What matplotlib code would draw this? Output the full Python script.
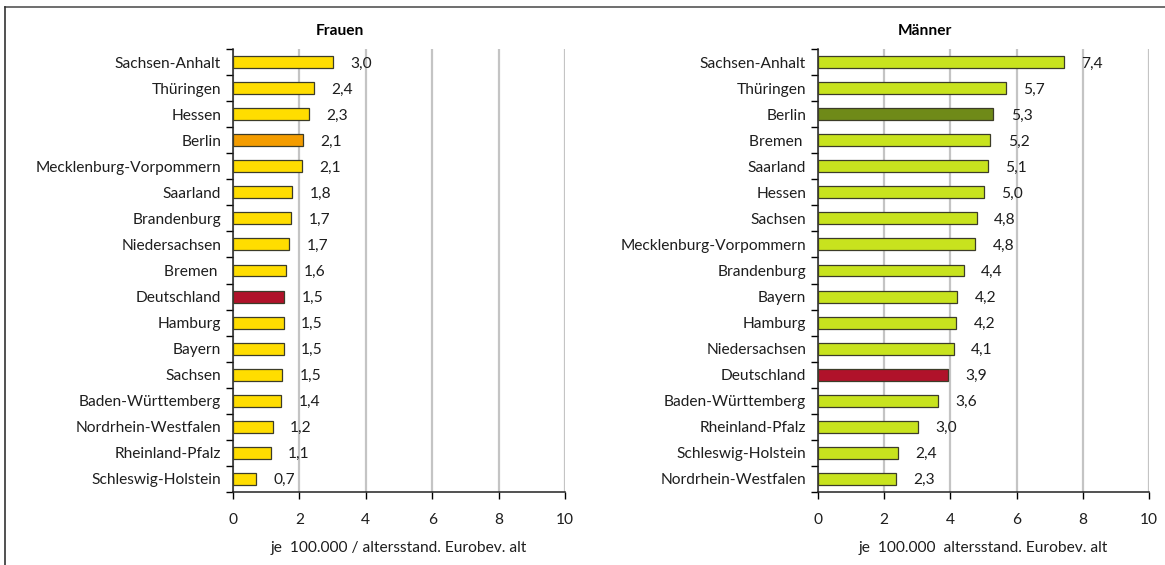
import matplotlib
matplotlib.use("Agg")
import matplotlib.pyplot as plt
from matplotlib.lines import Line2D
from matplotlib.ticker import FixedLocator

plt.rcParams['font.family'] = ['Lato', 'DejaVu Sans']

# Data
f_states = ["Sachsen-Anhalt", "Thüringen", "Hessen", "Berlin", "Mecklenburg-Vorpommern",
            "Saarland", "Brandenburg", "Niedersachsen", "Bremen ", "Deutschland", "Hamburg",
            "Bayern", "Sachsen", "Baden-Württemberg", "Nordrhein-Westfalen", "Rheinland-Pfalz",
            "Schleswig-Holstein"]
f_values = [3.01, 2.44, 2.29, 2.11, 2.08, 1.78, 1.75, 1.69, 1.60, 1.54, 1.53, 1.53, 1.48,
            1.45, 1.20, 1.14, 0.70]
f_labels = ["3,0", "2,4", "2,3", "2,1", "2,1", "1,8", "1,7", "1,7", "1,6", "1,5", "1,5",
            "1,5", "1,5", "1,4", "1,2", "1,1", "0,7"]

m_states = ["Sachsen-Anhalt", "Thüringen", "Berlin", "Bremen ", "Saarland", "Hessen", "Sachsen",
            "Mecklenburg-Vorpommern", "Brandenburg", "Bayern", "Hamburg", "Niedersachsen",
            "Deutschland", "Baden-Württemberg", "Rheinland-Pfalz", "Schleswig-Holstein",
            "Nordrhein-Westfalen"]
m_values = [7.42, 5.68, 5.30, 5.21, 5.14, 5.00, 4.80, 4.75, 4.41, 4.20, 4.17, 4.10, 3.93,
            3.63, 3.02, 2.42, 2.36]
m_labels = ["7,4", "5,7", "5,3", "5,2", "5,1", "5,0", "4,8", "4,8", "4,4", "4,2", "4,2",
            "4,1", "3,9", "3,6", "3,0", "2,4", "2,3"]

x_ticks = [0, 2, 4, 6, 8, 10]

f_color, f_berlin, de_color = "#FFDD00", "#F39C00", "#B0122A"
m_color, m_berlin = "#C8E31E", "#6F8A18"

W, H = 1165, 565
fig = plt.figure(figsize=(W / 100, H / 100), dpi=100)
FS = 11.2
TXT = "#1e1e1e"

def px_ax(x0, x1, y0, y1):
    return fig.add_axes([x0 / W, 1 - y1 / H, (x1 - x0) / W, (y1 - y0) / H])

def draw(ax, states, values, labels, base, berlin_col):
    n = len(states)
    y = list(range(n))
    colors = []
    for s in states:
        if s.strip() == "Berlin":
            colors.append(berlin_col)
        elif s.strip() == "Deutschland":
            colors.append(de_color)
        else:
            colors.append(base)
    ax.barh(y, values, height=0.46, color=colors, edgecolor="#3c3c28", linewidth=0.9, zorder=3)
    for yi, v, lab in zip(y, values, labels):
        ax.annotate(lab, (v, yi), xytext=(12.5, -1), textcoords="offset points",
                    ha="left", va="center", fontsize=FS, color=TXT)
    ax.set_ylim(n - 0.5, -0.5)
    ax.set_xlim(0, 10)
    ax.set_yticks(y)
    ax.set_yticklabels(states, fontsize=FS, color=TXT)
    ax.tick_params(axis="y", which="major", length=0, pad=8.5)
    ax.yaxis.set_minor_locator(FixedLocator([i - 0.5 for i in range(n + 1)]))
    ax.tick_params(axis="y", which="minor", length=5, width=1, direction="out")
    ax.set_xticks(x_ticks)
    ax.set_xticklabels([str(t) for t in x_ticks], fontsize=FS, color=TXT)
    ax.tick_params(axis="x", length=5, width=1, direction="out", pad=10)
    ax.xaxis.grid(True, color="#c4c4c4", linewidth=1.6, zorder=0)
    ax.set_axisbelow(True)
    for sp in ["top", "right"]:
        ax.spines[sp].set_visible(False)
    for sp in ["left", "bottom"]:
        ax.spines[sp].set_linewidth(1.1)
        ax.spines[sp].set_color("#222222")

ax1 = px_ax(233, 565, 49, 492)
draw(ax1, f_states, f_values, f_labels, f_color, f_berlin)
ax2 = px_ax(818, 1149, 49, 492)
draw(ax2, m_states, m_values, m_labels, m_color, m_berlin)

fig.text(340 / W, 1 - 31 / H, "Frauen", ha="center", va="center", fontsize=11.2, fontweight="bold")
fig.text(925 / W, 1 - 31 / H, "Männer", ha="center", va="center", fontsize=11.2, fontweight="bold")
fig.text(399 / W, 1 - 548 / H, "je  100.000 / altersstand. Eurobev. alt", ha="center", va="center", fontsize=FS, color=TXT)
fig.text(983 / W, 1 - 548 / H, "je  100.000  altersstand. Eurobev. alt", ha="center", va="center", fontsize=FS, color=TXT)

# outer frame (top and left edges visible)
fig.add_artist(Line2D([5 / W, 1], [1 - 7 / H, 1 - 7 / H], color="#555555", linewidth=1.2))
fig.add_artist(Line2D([5 / W, 5 / W], [1 - 7 / H, 0], color="#333333", linewidth=1.2))

fig.savefig("out.png", dpi=100)
